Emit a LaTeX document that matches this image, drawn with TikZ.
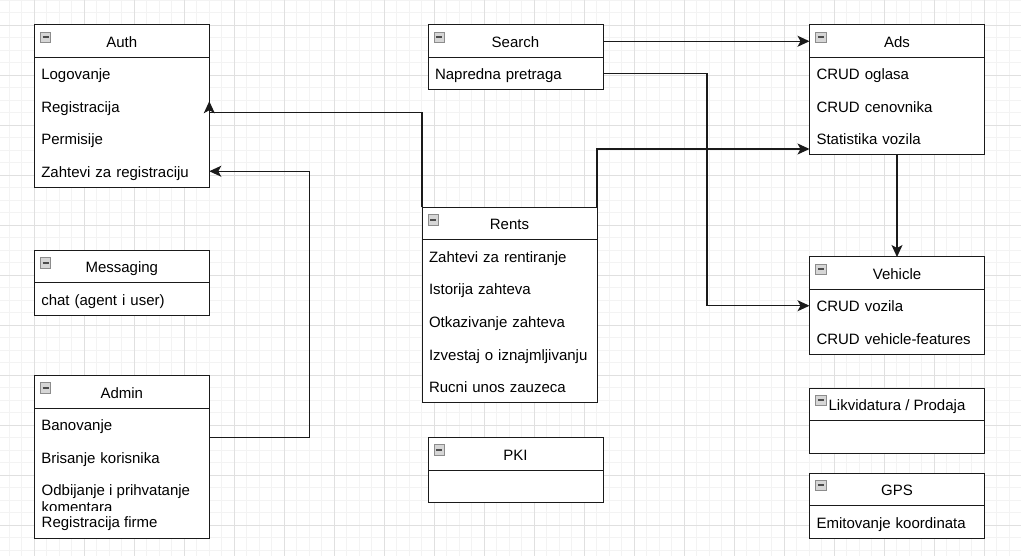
\documentclass[tikz,border=0pt]{standalone}
\usepackage{fontspec}
\setmainfont{Liberation Sans}
\usetikzlibrary{arrows.meta}
\definecolor{gridminor}{HTML}{F3F3F3}
\definecolor{gridmajor}{HTML}{E0E0E0}
\definecolor{iconfill}{HTML}{D6D6D6}
\definecolor{iconedge}{HTML}{8C8C8C}
\definecolor{edgecol}{HTML}{1A1A1A}
\tikzset{
  txt/.style={font=\fontsize{15pt}{18pt}\selectfont, text=black},
  cbox/.style={draw=edgecol, fill=white, line width=1pt, minimum width=175pt, inner sep=0pt, outer sep=0pt},
  chead/.style={txt, draw=edgecol, line width=1pt, minimum width=175pt, minimum height=32.5pt, inner sep=0pt, outer sep=0pt, text height=12.5pt, text depth=0pt},
  crow/.style={txt, minimum height=32.5pt, text width=161pt, align=left, inner xsep=7pt, inner ysep=0pt, outer sep=0pt, text height=12.5pt, text depth=0pt},
  conn/.style={draw=edgecol, line width=1.2pt, -{Stealth[length=12pt,width=11pt,inset=3pt]}},
  iconst/.style={draw=iconedge, fill=iconfill, line width=0.8pt},
  iconbar/.style={draw=black!70, line width=1.6pt},
  minorline/.style={draw=gridminor, line width=0.9pt},
  majorline/.style={draw=gridmajor, line width=0.9pt}
}
% #1 name, #2 left x, #3 top y, #4 number of rows, #5 title, #6 rows
\newcommand\mkclass[6]{%
  \node[cbox, minimum height={32.5*(#4+1)}, anchor=north west] (#1) at (#2,#3) {};
  \node[chead, anchor=north west] (#1-h) at (#2,#3) {#5};
  \foreach \rt [count=\ri] in {#6} {%
    \node[crow, anchor=north west] (#1-\ri) at (#2,{#3+32.5*\ri}) {\rt};}
  \draw[iconst] (#2+6,#3+7) rectangle (#2+16.5,#3+17.5);
  \draw[iconbar] (#2+8.3,#3+12.25) -- (#2+14.2,#3+12.25);
}
\begin{document}
\begin{tikzpicture}[x=1pt,y=-1pt]
\useasboundingbox (0,0) rectangle (1021,556);
\fill[white] (0,0) rectangle (1021,556);
% grid
\foreach \k in {0,...,80} \draw[minorline] ({9.3+12.5*\k},0) -- ({9.3+12.5*\k},556);
\foreach \k in {0,...,44} \draw[minorline] (0,{12.5*\k}) -- (1021,{12.5*\k});
\foreach \k in {0,...,19} \draw[majorline] ({34.3+50*\k},0) -- ({34.3+50*\k},556);
\foreach \k in {0,...,10} \draw[majorline] (0,{25+50*\k}) -- (1021,{25+50*\k});

% classes
\mkclass{auth}{34.3}{25}{4}{Auth}{Logovanje,Registracija,Permisije,Zahtevi za registraciju}
\mkclass{msg}{34.3}{250.5}{1}{Messaging}{chat (agent i user)}
\mkclass{admin}{34.3}{375.5}{4}{Admin}{Banovanje,Brisanje korisnika,\relax,\relax}
\node[txt, anchor=base west, inner sep=0pt] (admin-3a) at (41.5,495) {Odbijanje i prihvatanje};
\begin{scope}
  \clip (36,473) rectangle (208,510.5);
  \node[txt, anchor=base west, inner sep=0pt] (admin-3b) at (41.5,512) {komentara};
\end{scope}
\node[txt, anchor=base west, inner sep=0pt] (admin-4t) at (41.5,527.5) {Registracija firme};
\mkclass{search}{428}{25}{1}{Search}{Napredna pretraga}
\mkclass{rents}{422}{207.5}{5}{Rents}{Zahtevi za rentiranje,Istorija zahteva,Otkazivanje zahteva,Izvestaj o iznajmljivanju,Rucni unos zauzeca}
\mkclass{pki}{428}{437.5}{1}{PKI}{\relax}
\mkclass{ads}{809.5}{25}{3}{Ads}{CRUD oglasa,CRUD cenovnika,Statistika vozila}
\mkclass{vehicle}{809.5}{257}{2}{Vehicle}{CRUD vozila,CRUD vehicle-features}
\mkclass{likv}{809.5}{388}{1}{Likvidatura / Prodaja}{\relax}
\mkclass{gps}{809.5}{473}{1}{GPS}{Emitovanje koordinata}

% connector helper coordinates
\coordinate (jx1) at (707,0);
\coordinate (jx2) at (309.3,0);
\coordinate (adsin) at ([yshift=-10.25pt]ads-3.west);
\coordinate (authin) at ([yshift=-6.5pt]auth-2.east);
\coordinate (authtip) at ([yshift=5pt]auth-2.east);
\coordinate (adminout) at ([yshift=-13.5pt]admin-1.east);

% connectors
\draw[conn] (search-h.east) -- (ads-h.west);
\draw[conn] (search-1.east) -- (search-1.east -| jx1) -- (jx1 |- vehicle-1.west) -- (vehicle-1.west);
\draw[conn] (rents.north east) |- (adsin);
\draw[conn] (rents.north west) |- (authin) -- (authtip);
\draw[conn] (adminout) -- (adminout -| jx2) -- (jx2 |- auth-4.east) -- (auth-4.east);
\draw[conn] (ads.south) -- (vehicle.north);
\end{tikzpicture}
\end{document}
